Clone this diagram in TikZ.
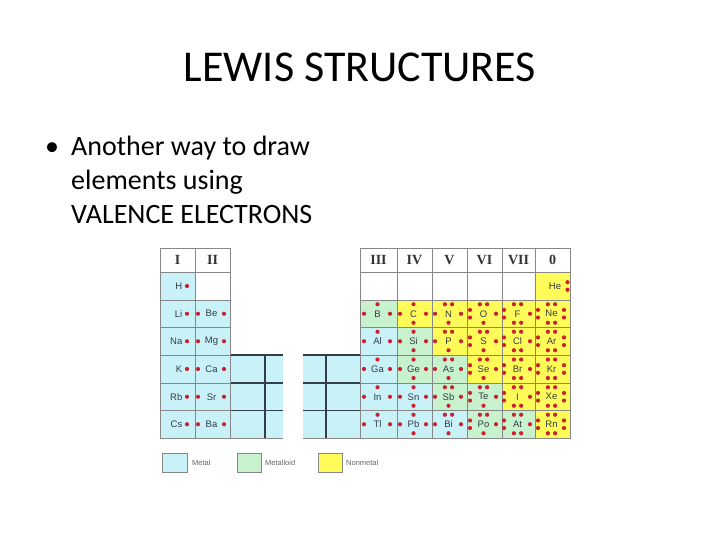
\documentclass[tikz,border=0pt]{standalone}
\usepackage{fontspec}
\setmainfont{Carlito}
\newfontfamily\symfont{Liberation Sans}
\newfontfamily\numfont{Liberation Serif}
\definecolor{metal}{RGB}{200,242,248}
\definecolor{mloid}{RGB}{200,242,205}
\definecolor{nonm}{RGB}{255,252,90}
\definecolor{gridc}{RGB}{135,135,135}
\definecolor{dotc}{RGB}{200,35,50}
\definecolor{darkl}{RGB}{50,62,72}
\definecolor{symc}{RGB}{50,60,70}
\tikzset{
 cellbox/.style={draw=gridc,line width=0.8},
 sym/.style={font=\symfont\fontsize{9.5}{10}\selectfont,text=symc,inner sep=0},
 hdr/.style={font=\numfont\bfseries\fontsize{14}{14}\selectfont,text=black!80,inner sep=0},
 edot/.style={fill=dotc},
 stubline/.style={draw=darkl,line width=1.2},
 legbox/.style={draw=gridc,line width=0.6},
 legtext/.style={font=\symfont\fontsize{7.5}{8}\selectfont,text=black!60,anchor=west,inner sep=0},
 body/.style={font=\fontsize{28}{33}\selectfont,anchor=base west,inner sep=0},
}
% dots relative to a node
\newcommand\edot[3]{\fill[edot] ([shift={(#2,#3)}]#1) circle[radius=2.1];}
\newcommand\pL[1]{\edot{#1}{-13.5}{0}}
\newcommand\pLL[1]{\edot{#1}{-13.5}{-3.8}\edot{#1}{-13.5}{3.8}}
\newcommand\pR[1]{\edot{#1}{12.5}{0}}
\newcommand\pRR[1]{\edot{#1}{12.5}{-3.8}\edot{#1}{12.5}{3.8}}
\newcommand\pT[1]{\edot{#1}{0}{-9.5}}
\newcommand\pTT[1]{\edot{#1}{-3.6}{-9.5}\edot{#1}{3.6}{-9.5}}
\newcommand\pB[1]{\edot{#1}{0}{9}}
\newcommand\pBB[1]{\edot{#1}{-3.6}{9}\edot{#1}{3.6}{9}}
\newcommand\gII[1]{\pL{#1}\pR{#1}}
\newcommand\gIII[1]{\pL{#1}\pT{#1}\pR{#1}}
\newcommand\gIV[1]{\pL{#1}\pT{#1}\pR{#1}\pB{#1}}
\newcommand\gV[1]{\pL{#1}\pTT{#1}\pR{#1}\pB{#1}}
\newcommand\gVI[1]{\pLL{#1}\pTT{#1}\pR{#1}\pB{#1}}
\newcommand\gVII[1]{\pLL{#1}\pTT{#1}\pR{#1}\pBB{#1}}
\newcommand\gO[1]{\pLL{#1}\pTT{#1}\pRR{#1}\pBB{#1}}
% cell: xl xr yt yb fill symbol group
\newcommand\ecell[7]{%
 \filldraw[cellbox,fill=#5] (#1,#3) rectangle (#2,#4);
 \node[sym] (e#6) at ({(#1+#2)/2-1},{(#3+#4)/2}) {#6};
 #7{e#6}}
% group I cell: yt yb symbol
\newcommand\gIcell[3]{%
 \filldraw[cellbox,fill=metal] (160,#1) rectangle (195,#2);
 \node[sym,anchor=east] (e#3) at (182.5,{(#1+#2)/2}) {#3};
 \edot{e#3.east}{4.5}{0}}
\begin{document}
\begin{tikzpicture}[x=1pt,y=-1pt]
\useasboundingbox[fill=white] (0,0) rectangle (720,540);
% title and text
\node[font=\fontsize{44}{52}\selectfont,anchor=base,inner sep=0] (title) at (360,82) {LEWIS STRUCTURES};
\node[body] (bullet) at (45,156) {\textbullet};
\node[body] (l1) at (71,156) {Another way to draw};
\node[body] (l2) at (71,189.5) {elements using};
\node[body] (l3) at (71,223) {VALENCE ELECTRONS};
% transition stubs
\fill[metal] (230,355) rectangle (283,438);
\fill[metal] (303,355) rectangle (360,438);
\draw[stubline] (230,355) -- (283,355) (230,383) -- (283,383) (230,410.5) -- (283,410.5);
\draw[stubline] (303,355) -- (360,355) (303,383) -- (360,383) (303,410.5) -- (360,410.5);
\draw[stubline] (265,355) -- (265,438) (326,355) -- (326,438);
\draw[cellbox] (230,438) -- (283,438) (303,438) -- (360,438);
% headers
\filldraw[cellbox,fill=white] (160,248) rectangle (195,272);
\filldraw[cellbox,fill=white] (195,248) rectangle (230,272);
\node[hdr] (hI) at (177.5,260) {I};
\node[hdr] (hII) at (212.5,260) {II};
\foreach \xl/\xr/\t/\n in {360/397/III/h3,397/432/IV/h4,432/467/V/h5,467/502/VI/h6,502/535/VII/h7,535/570/0/h8}{
 \filldraw[cellbox,fill=white] (\xl,248) rectangle (\xr,272);
 \node[hdr] (\n) at ({(\xl+\xr)/2},260) {\t};
}
% row 1
\gIcell{272}{300}{H}
\filldraw[cellbox,fill=white] (195,272) rectangle (230,300);
\foreach \xl/\xr in {360/397,397/432,432/467,467/502,502/535}{
 \filldraw[cellbox,fill=white] (\xl,272) rectangle (\xr,300);
}
\filldraw[cellbox,fill=nonm] (535,272) rectangle (570,300);
\node[sym] (eHe) at (555,286) {He};
\pRR{eHe}
% group I and II
\gIcell{300}{327.5}{Li}
\gIcell{327.5}{355}{Na}
\gIcell{355}{383}{K}
\gIcell{383}{410.5}{Rb}
\gIcell{410.5}{438}{Cs}
\ecell{195}{230}{300}{327.5}{metal}{Be}{\gII}
\ecell{195}{230}{327.5}{355}{metal}{Mg}{\gII}
\ecell{195}{230}{355}{383}{metal}{Ca}{\gII}
\ecell{195}{230}{383}{410.5}{metal}{Sr}{\gII}
\ecell{195}{230}{410.5}{438}{metal}{Ba}{\gII}
% row 2
\ecell{360}{397}{300}{327.5}{mloid}{B}{\gIII}
\ecell{397}{432}{300}{327.5}{nonm}{C}{\gIV}
\ecell{432}{467}{300}{327.5}{nonm}{N}{\gV}
\ecell{467}{502}{300}{327.5}{nonm}{O}{\gVI}
\ecell{502}{535}{300}{327.5}{nonm}{F}{\gVII}
\ecell{535}{570}{300}{327.5}{nonm}{Ne}{\gO}
% row 3
\ecell{360}{397}{327.5}{355}{metal}{Al}{\gIII}
\ecell{397}{432}{327.5}{355}{mloid}{Si}{\gIV}
\ecell{432}{467}{327.5}{355}{nonm}{P}{\gV}
\ecell{467}{502}{327.5}{355}{nonm}{S}{\gVI}
\ecell{502}{535}{327.5}{355}{nonm}{Cl}{\gVII}
\ecell{535}{570}{327.5}{355}{nonm}{Ar}{\gO}
% row 4
\ecell{360}{397}{355}{383}{metal}{Ga}{\gIII}
\ecell{397}{432}{355}{383}{mloid}{Ge}{\gIV}
\ecell{432}{467}{355}{383}{mloid}{As}{\gV}
\ecell{467}{502}{355}{383}{nonm}{Se}{\gVI}
\ecell{502}{535}{355}{383}{nonm}{Br}{\gVII}
\ecell{535}{570}{355}{383}{nonm}{Kr}{\gO}
% row 5
\ecell{360}{397}{383}{410.5}{metal}{In}{\gIII}
\ecell{397}{432}{383}{410.5}{metal}{Sn}{\gIV}
\ecell{432}{467}{383}{410.5}{mloid}{Sb}{\gV}
\ecell{467}{502}{383}{410.5}{mloid}{Te}{\gVI}
\ecell{502}{535}{383}{410.5}{nonm}{I}{\gVII}
\ecell{535}{570}{383}{410.5}{nonm}{Xe}{\gO}
% row 6
\ecell{360}{397}{410.5}{438}{metal}{Tl}{\gIII}
\ecell{397}{432}{410.5}{438}{metal}{Pb}{\gIV}
\ecell{432}{467}{410.5}{438}{metal}{Bi}{\gV}
\ecell{467}{502}{410.5}{438}{mloid}{Po}{\gVI}
\ecell{502}{535}{410.5}{438}{mloid}{At}{\gVII}
\ecell{535}{570}{410.5}{438}{nonm}{Rn}{\gO}
% legend
\filldraw[legbox,fill=metal] (162,453) rectangle (187,472);
\node[legtext] (lm) at (192,463) {Metal};
\filldraw[legbox,fill=mloid] (237,453) rectangle (261,472);
\node[legtext] (lmd) at (265,463) {Metalloid};
\filldraw[legbox,fill=nonm] (318,453) rectangle (342,472);
\node[legtext] (lnm) at (346,463) {Nonmetal};
\end{tikzpicture}
\end{document}
